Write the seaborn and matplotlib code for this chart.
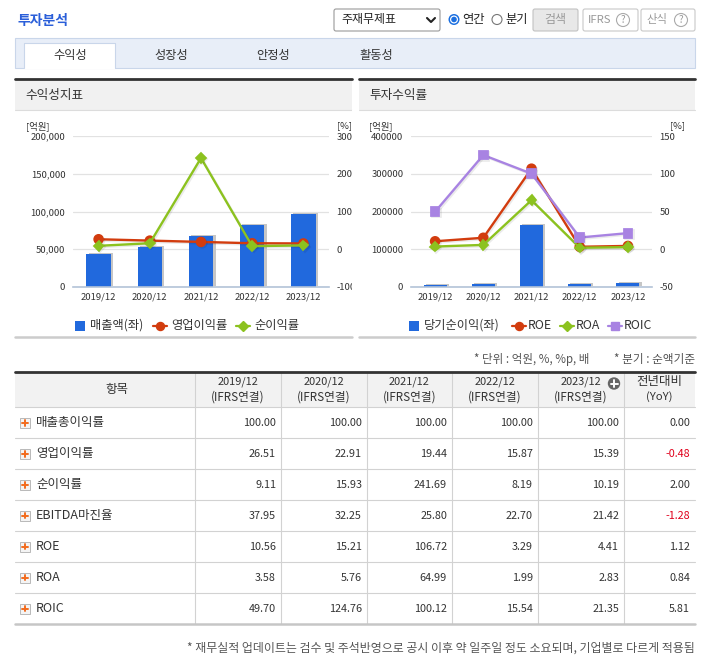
import matplotlib
matplotlib.use("Agg")
import matplotlib.pyplot as plt
import matplotlib.patheffects as pe
from matplotlib.patches import Rectangle, Circle, FancyBboxPatch
from matplotlib.ticker import FuncFormatter
import seaborn as sns
import numpy as np

# ---- data ----
years = ["2019/12", "2020/12", "2021/12", "2022/12", "2023/12"]
revenue = [44150, 53000, 67550, 82100, 96700]          # 매출액 (억원)
net_income = [4000, 8400, 163300, 6700, 9900]          # 당기순이익 (억원)
gross_margin = [100.00, 100.00, 100.00, 100.00, 100.00]
op_margin = [26.51, 22.91, 19.44, 15.87, 15.39]
net_margin = [9.11, 15.93, 241.69, 8.19, 10.19]
ebitda_margin = [37.95, 32.25, 25.80, 22.70, 21.42]
roe = [10.56, 15.21, 106.72, 3.29, 4.41]
roa = [3.58, 5.76, 64.99, 1.99, 2.83]
roic = [49.70, 124.76, 100.12, 15.54, 21.35]
yoy = [0.00, -0.48, 2.00, -1.28, 1.12, 0.84, 5.81]
row_labels = ["매출총이익률", "영업이익률", "순이익률", "EBITDA마진율", "ROE", "ROA", "ROIC"]
tabs = ["수익성", "성장성", "안정성", "활동성"]

BLUE = "#2169dd"
RED = "#d23c0e"
GREEN = "#8cc21f"
PURPLE = "#a883e2"
AXIS_C = "#b3c3d8"
TXT = "#333333"

sns.set_style("white")
plt.rcParams["font.family"] = ["Noto Sans CJK KR", "DejaVu Sans"]

W, H = 702, 659
fig = plt.figure(figsize=(W / 100, H / 100), dpi=100)
bg = fig.add_axes([0, 0, 1, 1], zorder=0)
bg.set_xlim(0, W)
bg.set_ylim(H, 0)
bg.axis("off")


def px_axes(x0, y0, x1, y1):
    return fig.add_axes([x0 / W, 1 - y1 / H, (x1 - x0) / W, (y1 - y0) / H], zorder=1)


def txt(x, y, s, size=9, color=TXT, ha="left", **kw):
    bg.text(x, y, s, fontsize=size, color=color, ha=ha, va="center", **kw)


# ---- top bar ----
txt(17, 21, "투자분석", size=10, color="#2b5fd9", fontweight="bold")
bg.add_patch(FancyBboxPatch((334, 9), 106, 22, boxstyle="round,pad=0,rounding_size=2",
                            fc="white", ec="#9a9a9a", lw=0.8))
txt(341, 20, "주재무제표", size=8.6, color="#222")
bg.plot([427, 431, 435], [18, 22, 18], color="#222", lw=1.5)
bg.add_patch(Circle((454, 19.5), 5.5, fc="#1b6fe0", ec="none"))
bg.add_patch(Circle((454, 19.5), 4.0, fc="white", ec="none"))
bg.add_patch(Circle((454, 19.5), 2.8, fc="#1b6fe0", ec="none"))
txt(462, 19, "연간", size=8.8, color="#222")
bg.add_patch(Circle((497, 19.5), 5, fc="white", ec="#777", lw=0.8))
txt(505, 19, "분기", size=8.8, color="#222")
bg.add_patch(FancyBboxPatch((533, 9), 45, 22, boxstyle="round,pad=0,rounding_size=2",
                            fc="#e8e8e8", ec="#c2c2c2", lw=0.8))
txt(555.5, 20, "검색", size=8.6, color="#999", ha="center")
for (x0, x1, label, lx, qx) in [(583, 638, "IFRS", 588, 623), (641, 695, "산식", 646, 681)]:
    bg.add_patch(FancyBboxPatch((x0, 9), x1 - x0, 22, boxstyle="round,pad=0,rounding_size=2",
                                fc="white", ec="#c8c8c8", lw=0.8))
    txt(lx, 20, label, size=8.2, color="#999")
    bg.add_patch(Circle((qx, 20), 6.5, fc="white", ec="#aaa", lw=0.8))
    txt(qx, 20, "?", size=7, color="#999", ha="center")

# ---- tabs ----
bg.add_patch(Rectangle((15, 38), 680, 30, fc="#e8eef8", ec="#c9d6ea", lw=0.8))
bg.add_patch(Rectangle((24, 43), 91, 26, fc="white", ec="none"))
bg.plot([24, 24, 115, 115], [68, 43, 43, 68], color="#c9d6ea", lw=0.8)
for t, cx in zip(tabs, [70, 171, 273, 376]):
    txt(cx, 55, t, size=8.8, ha="center")

# ---- panels ----
for (x0, x1, title) in [(15, 352, "수익성지표"), (359, 695, "투자수익률")]:
    bg.add_patch(Rectangle((x0, 79), x1 - x0, 31, fc="#f1f1f1", ec="none"))
    bg.plot([x0, x1], [78.5, 78.5], color="#333", lw=2)
    bg.plot([x0, x1], [110, 110], color="#dcdcdc", lw=0.8)
    bg.plot([x0, x1], [337, 337], color="#cccccc", lw=1.8)
    txt(x0 + 10, 96, title, size=9.1)


def draw_chart(box, bars, lines, llim, lticks, rlim, rticks, lfmt):
    ax = px_axes(*box)
    ax.set_facecolor("none")
    sns.barplot(x=years, y=bars, ax=ax, color=BLUE, width=0.48, saturation=1, linewidth=0)
    for p in ax.patches:
        p.set_path_effects([pe.SimplePatchShadow(offset=(1.6, 0.8), shadow_rgbFace="#c6c6c6", alpha=1),
                            pe.Normal()])
    ax2 = ax.twinx()
    for vals, color, marker, ms in lines:
        sns.pointplot(x=years, y=vals, ax=ax2, color=color, markers=marker, markersize=ms,
                      linewidth=1.7, errorbar=None)
    for ln in ax2.lines:
        ln.set_path_effects([pe.SimpleLineShadow(offset=(1, -1), shadow_color="k", alpha=0.08),
                             pe.Normal()])
    ax.set_ylim(*llim)
    ax.set_yticks(lticks)
    ax.yaxis.set_major_formatter(FuncFormatter(lfmt))
    ax2.set_ylim(*rlim)
    ax2.set_yticks(rticks)
    ax2.yaxis.set_major_formatter(FuncFormatter(lambda v, p: f"{int(v)}"))
    ax.set_xlim(-0.5, 4.5)
    ax.yaxis.grid(True, color="#e2e2e2", lw=0.9)
    ax.set_axisbelow(True)
    for s in ["left", "right", "top"]:
        ax.spines[s].set_visible(False)
    for s in ax2.spines.values():
        s.set_visible(False)
    ax.spines["bottom"].set_color(AXIS_C)
    ax.spines["bottom"].set_linewidth(1.2)
    ax.set_xticks(np.arange(-0.5, 5, 1), minor=True)
    ax.tick_params(axis="x", which="major", length=0, pad=4, labelsize=6.8, labelcolor=TXT)
    ax.tick_params(axis="x", which="minor", length=3.5, width=1, color=AXIS_C)
    ax.tick_params(axis="y", length=0, pad=5.5, labelsize=6.8, labelcolor=TXT)
    ax2.tick_params(axis="y", length=0, pad=5.5, labelsize=6.8, labelcolor=TXT)
    ax.set_xlabel("")
    ax.set_ylabel("")
    ax2.set_ylabel("")
    return ax, ax2


draw_chart((73, 136, 329, 287), revenue,
           [(op_margin, RED, "o", 6.3), (net_margin, GREEN, "D", 4.8)],
           (0, 200000), [0, 50000, 100000, 150000, 200000],
           (-100, 300), [-100, 0, 100, 200, 300],
           lambda v, p: f"{int(v):,}")
draw_chart((411, 136, 652, 287), net_income,
           [(roe, RED, "o", 6.3), (roa, GREEN, "D", 4.8), (roic, PURPLE, "s", 6.3)],
           (0, 400000), [0, 100000, 200000, 300000, 400000],
           (-50, 150), [-50, 0, 50, 100, 150],
           lambda v, p: f"{int(v)}")

# clip right-axis labels of the left panel
fig.add_artist(Rectangle((352 / W, 1 - 300 / H), 6 / W, 190 / H, transform=fig.transFigure,
                         fc="white", ec="none", zorder=50))

txt(26, 126, "[억원]", size=6.8)
txt(337, 126, "[%]", size=6.8)
txt(369, 126, "[억원]", size=6.8)
txt(670, 126, "[%]", size=6.8)

# legends
LY = 325.5
LS = 8.8
bg.add_patch(Rectangle((75, LY - 5), 10, 10, fc=BLUE, ec="none"))
txt(90, LY, "매출액(좌)", size=LS)
for (x, c, m, ms, lab) in [(153, RED, "o", 5.8, "영업이익률"), (236, GREEN, "D", 4.6, "순이익률")]:
    bg.plot([x, x + 14], [LY, LY], color=c, lw=1.6)
    bg.plot([x + 7], [LY], color=c, marker=m, ms=ms)
    txt(x + 18, LY, lab, size=LS)

bg.add_patch(Rectangle((409, LY - 5), 10, 10, fc=BLUE, ec="none"))
txt(424, LY, "당기순이익(좌)", size=LS)
for (x, c, m, ms, lab) in [(512, RED, "o", 5.8, "ROE"), (560, GREEN, "D", 4.6, "ROA"),
                           (608, PURPLE, "s", 5.8, "ROIC")]:
    bg.plot([x, x + 14], [LY, LY], color=c, lw=1.6)
    bg.plot([x + 7], [LY], color=c, marker=m, ms=ms)
    txt(x + 16, LY, lab, size=LS)

# ---- table ----
txt(474, 359, "* 단위 : 억원, %, %p, 배", size=8.3, color="#555")
txt(695, 359, "* 분기 : 순액기준", size=8.4, color="#555", ha="right")

cols = [15, 195, 281, 367, 452, 538, 624, 695]
top, hdr_bot, bot = 372, 407, 623.5
row_h = (bot - hdr_bot) / len(row_labels)
bg.add_patch(Rectangle((15, top), 680, hdr_bot - top, fc="#f2f2f2", ec="none"))
for i in range(len(row_labels)):
    y = hdr_bot + i * row_h
    bg.plot([15, 695], [y, y], color="#d2d2d2", lw=0.8)
for x in cols[1:-1]:
    bg.plot([x, x], [top, bot], color="#d2d2d2", lw=0.8)
bg.plot([15, 695], [top, top], color="#333", lw=2)
bg.plot([15, 695], [bot, bot], color="#c6c6c6", lw=1.8)

txt(105, 389.5, "항목")
for j, yr in enumerate(years):
    cx = (cols[j + 1] + cols[j + 2]) / 2
    txt(cx, 382, yr, size=7.9, ha="center")
    txt(cx, 397, "(IFRS연결)", size=8.4, ha="center")
cx = (cols[6] + cols[7]) / 2
txt(cx, 382, "전년대비", ha="center")
txt(cx, 397, "(YoY)", size=8.2, ha="center")
bg.add_patch(Circle((614, 383.5), 6.2, fc="#666", ec="none"))
bg.plot([610.5, 617.5], [383.5, 383.5], color="white", lw=1.4)
bg.plot([614, 614], [380, 387], color="white", lw=1.4)

table_rows = [gross_margin, op_margin, net_margin, ebitda_margin, roe, roa, roic]
for i, (lab, vals) in enumerate(zip(row_labels, table_rows)):
    cy = hdr_bot + (i + 0.5) * row_h + 0.5
    bg.add_patch(Rectangle((20, cy - 5), 10, 10, fc="#f4f4f4", ec="#b8b8b8", lw=0.7))
    bg.plot([22.3, 27.7], [cy, cy], color="#f26b1d", lw=1.4)
    bg.plot([25, 25], [cy - 2.7, cy + 2.7], color="#f26b1d", lw=1.4)
    txt(36, cy, lab)
    for j, v in enumerate(vals):
        txt(cols[j + 2] - 5, cy, f"{v:.2f}", size=7.8, ha="right")
    yv = yoy[i]
    txt(690, cy, f"{yv:.2f}", size=7.8, ha="right", color="#e0001b" if yv < 0 else TXT)

txt(695, 648, "* 재무실적 업데이트는 검수 및 주석반영으로 공시 이후 약 일주일 정도 소요되며, 기업별로 다르게 적용됨",
    size=8.6, color="#555", ha="right")

fig.savefig("out.png", dpi=100)
